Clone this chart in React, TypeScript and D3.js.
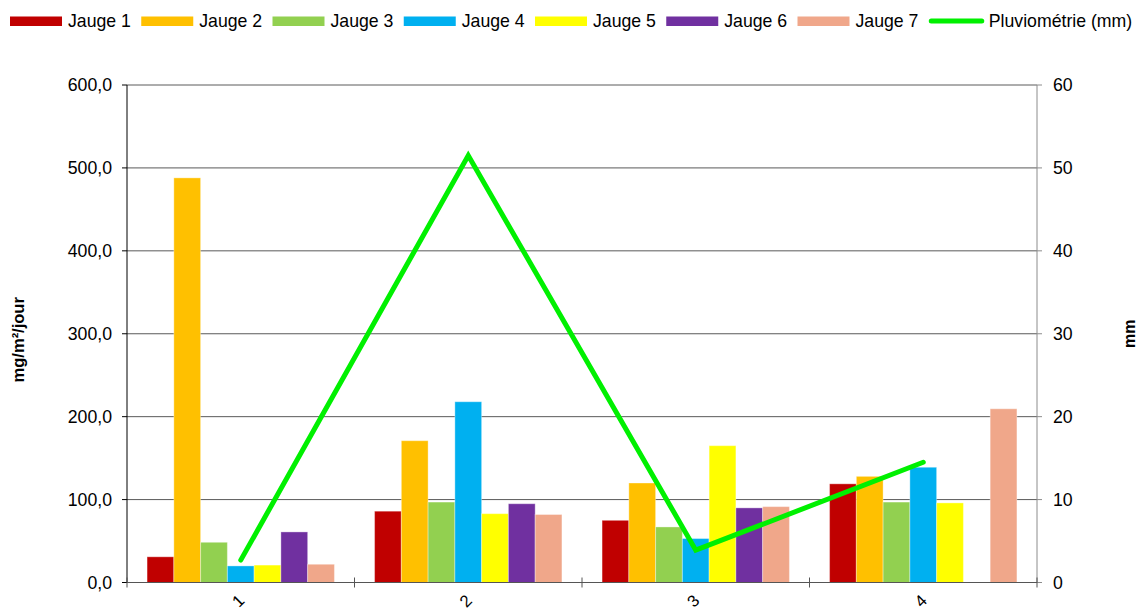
import React from "react";
import * as d3 from "d3";

// Categories (sampling campaigns) and values per gauge, in mg/m²/jour
const categories = ["1", "2", "3", "4"];
const seriesNames = ["Jauge 1", "Jauge 2", "Jauge 3", "Jauge 4", "Jauge 5", "Jauge 6", "Jauge 7"];
const jauge1 = [31, 86, 75, 119];
const jauge2 = [488, 171, 120, 128];
const jauge3 = [48.5, 97, 67, 97];
const jauge4 = [20, 218, 53, 139];
const jauge5 = [21, 83, 165, 96];
const jauge6: (number | null)[] = [61, 95, 90, null];
const jauge7 = [22, 82, 91.5, 209.5];
// Rainfall per campaign, in mm (right axis)
const pluviometrie = [2.7, 51.5, 3.9, 14.5];
const lineName = "Pluviométrie (mm)";

const leftTicks = [0, 100, 200, 300, 400, 500, 600];
const rightTicks = [0, 10, 20, 30, 40, 50, 60];

const colors = ["#C00000", "#FFC000", "#92D050", "#00B0F0", "#FFFF00", "#7030A0", "#F0A78A"];
const lineColor = "#00F000";

const W = 1145;
const H = 610;
const margin = { left: 127, right: 108, top: 85, bottom: 27.5 };
const FONT = "'Liberation Sans', Arial, sans-serif";

export default function App() {
  const series = [jauge1, jauge2, jauge3, jauge4, jauge5, jauge6, jauge7];
  const x0 = margin.left;
  const x1 = W - margin.right;
  const y0 = H - margin.bottom;
  const y1 = margin.top;

  const xCat = d3.scaleBand<string>().domain(categories).range([x0, x1]).paddingInner(0).paddingOuter(0);
  const bw = xCat.bandwidth();
  const gap = (bw / (seriesNames.length + 1.5)) * 1.5;
  const xSer = d3
    .scaleBand<string>()
    .domain(seriesNames)
    .range([gap / 2, bw - gap / 2])
    .padding(0);
  const yL = d3.scaleLinear().domain([0, 600]).range([y0, y1]);
  const yR = d3.scaleLinear().domain([0, 60]).range([y0, y1]);

  const line = d3
    .line<number>()
    .x((_, i) => (xCat(categories[i]) as number) + bw / 2)
    .y((d) => yR(d));

  const fmtL = (v: number) => v.toFixed(1).replace(".", ",");
  const legendStep = 131.25;
  const fs = 17.7;

  return (
    <svg
      width={W}
      height={H}
      style={{ position: "absolute", left: 0, top: 0, display: "block", background: "#fff" }}
      fontFamily={FONT}
    >
      <rect x={0} y={0} width={W} height={H} fill="#fff" />

      {/* Gridlines */}
      {leftTicks.slice(1).map((t) => (
        <line key={"g" + t} x1={x0} x2={x1} y1={yL(t)} y2={yL(t)} stroke="#5a5a5a" strokeWidth={1} />
      ))}

      {/* Bars */}
      {series.map((vals, si) =>
        vals.map((v, ci) =>
          v == null ? null : (
            <rect
              key={`b${si}-${ci}`}
              x={(xCat(categories[ci]) as number) + (xSer(seriesNames[si]) as number)}
              y={yL(v)}
              width={xSer.bandwidth()}
              height={y0 - yL(v)}
              fill={colors[si]}
              stroke="#ffffff"
              strokeOpacity={0.35}
              strokeWidth={1}
            />
          )
        )
      )}

      {/* Left axis */}
      <line x1={x0} x2={x0} y1={y1} y2={y0} stroke="#000" strokeWidth={1} />
      {leftTicks.map((t) => (
        <g key={"l" + t}>
          <line x1={x0 - 5} x2={x0} y1={yL(t)} y2={yL(t)} stroke="#000" />
          <text x={x0 - 15} y={yL(t)} dy="0.36em" textAnchor="end" fontSize={fs} fill="#000">
            {fmtL(t)}
          </text>
        </g>
      ))}

      {/* Right axis */}
      <line x1={x1} x2={x1} y1={y1} y2={y0} stroke="#8c8c8c" strokeWidth={1} />
      {rightTicks.map((t) => (
        <g key={"r" + t}>
          <line x1={x1} x2={x1 + 5} y1={yR(t)} y2={yR(t)} stroke="#8c8c8c" />
          <text x={x1 + 16} y={yR(t)} dy="0.36em" textAnchor="start" fontSize={fs} fill="#000">
            {t}
          </text>
        </g>
      ))}

      {/* Bottom axis */}
      <line x1={x0} x2={x1} y1={y0} y2={y0} stroke="#555" strokeWidth={1.2} />
      {[...categories.map((c) => xCat(c) as number), x1].map((xx, i) => (
        <line key={"t" + i} x1={xx} x2={xx} y1={y0 - 5} y2={y0 + 5} stroke="#555" />
      ))}
      {categories.map((c) => (
        <text
          key={"c" + c}
          transform={`translate(${(xCat(c) as number) + bw / 2 + 1.5},${H - 5}) rotate(-45)`}
          textAnchor="middle"
          fontSize={fs - 1}
          fill="#000"
        >
          {c}
        </text>
      ))}

      {/* Rainfall line */}
      <path
        d={line(pluviometrie) as string}
        fill="none"
        stroke={lineColor}
        strokeWidth={5}
        strokeLinecap="round"
        strokeLinejoin="miter"
      />

      {/* Axis titles */}
      <text
        transform={`translate(24,${(y0 + y1) / 2 + 6}) rotate(-90)`}
        textAnchor="middle"
        fontWeight="bold"
        fontSize={16.5}
        fill="#000"
      >
        mg/m²/jour
      </text>
      <text
        transform={`translate(1135,${(y0 + y1) / 2}) rotate(-90)`}
        textAnchor="middle"
        fontWeight="bold"
        fontSize={16}
        fill="#000"
      >
        mm
      </text>

      {/* Legend */}
      {seriesNames.map((name, i) => (
        <g key={"lg" + name} transform={`translate(${10 + i * legendStep},0)`}>
          <rect x={0} y={16.5} width={52} height={9.5} fill={colors[i]} />
          <text x={58} y={21} dy="0.36em" fontSize={fs} fill="#000">
            {name}
          </text>
        </g>
      ))}
      <g transform={`translate(${10 + seriesNames.length * legendStep},0)`}>
        <line x1={2.5} x2={53} y1={21} y2={21} stroke={lineColor} strokeWidth={5} strokeLinecap="round" />
        <text x={60} y={21} dy="0.36em" fontSize={fs} fill="#000">
          {lineName}
        </text>
      </g>
    </svg>
  );
}
